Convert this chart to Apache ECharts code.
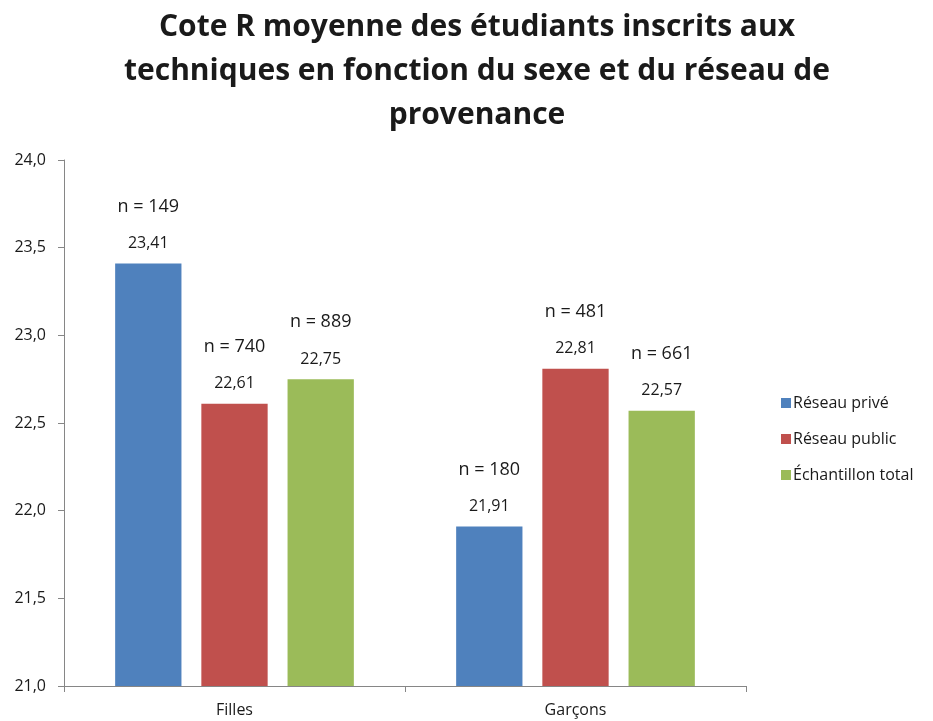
<!DOCTYPE html>
<html><head><meta charset="utf-8">
<script src="https://cdn.jsdelivr.net/npm/echarts@6/dist/echarts.min.js"></script>
<style>html,body{margin:0;padding:0;background:#fff}#c{width:933px;height:721px}</style>
</head><body><div id="c"></div>
<script>
const categories = ['Filles', 'Garçons'];
const seriesNames = ['Réseau privé', 'Réseau public', 'Échantillon total'];
const prive = [23.41, 21.91];
const public_ = [22.61, 22.81];
const total = [22.75, 22.57];
const nPrive = [149, 180];
const nPublic = [740, 481];
const nTotal = [889, 661];
const yTicks = [21.0, 21.5, 22.0, 22.5, 23.0, 23.5, 24.0];

const colors = ['#4F81BD', '#C0504D', '#9BBB59'];
const font = 'Open Sans';
const fmt = v => v.toFixed(2).replace('.', ',');

function mk(name, vals, ns, color) {
  return {
    name, type: 'bar', data: vals,
    itemStyle: { color },
    barGap: '30%', barCategoryGap: '30%',
    label: {
      show: true, position: 'top', distance: 6,
      formatter: p => '{n|n = ' + ns[p.dataIndex] + '}\n{v|' + fmt(p.value) + '}',
      rich: {
        n: { fontSize: 18, lineHeight: 46, color: '#1a1a1a', fontFamily: font },
        v: { fontSize: 16, lineHeight: 28, color: '#1a1a1a', fontFamily: font }
      }
    }
  };
}

const chart = echarts.init(document.getElementById('c'));
chart.setOption({
  animation: false,
  title: {
    text: 'Cote R moyenne des étudiants inscrits aux\ntechniques en fonction du sexe et du réseau de\nprovenance',
    left: 472, top: 0, textAlign: 'center',
    textStyle: { fontFamily: font, fontWeight: 'bold', fontSize: 30, lineHeight: 44, color: '#1a1a1a' }
  },
  legend: {
    orient: 'vertical', left: 776, top: 389, itemGap: 18,
    itemWidth: 10, itemHeight: 10, icon: 'rect',
    textStyle: { fontFamily: font, fontSize: 16, lineHeight: 18, color: '#1a1a1a', padding: [0, 0, 0, -3] },
    data: seriesNames
  },
  grid: { left: 64, right: 187, top: 160, bottom: 35 },
  xAxis: {
    type: 'category', data: categories,
    axisLine: { lineStyle: { color: '#868686' } },
    axisTick: { show: true, length: 6, lineStyle: { color: '#868686' } },
    axisLabel: { fontFamily: font, fontSize: 16, color: '#1a1a1a', margin: 16 }
  },
  yAxis: {
    type: 'value', min: yTicks[0], max: yTicks[yTicks.length - 1], interval: 0.5,
    splitLine: { show: false },
    axisLine: { show: true, lineStyle: { color: '#868686' } },
    axisTick: { show: true, length: 6, lineStyle: { color: '#868686' } },
    axisLabel: { fontFamily: font, fontSize: 16, color: '#1a1a1a', margin: 18,
      formatter: v => v.toFixed(1).replace('.', ',') }
  },
  series: [
    mk(seriesNames[0], prive, nPrive, colors[0]),
    mk(seriesNames[1], public_, nPublic, colors[1]),
    mk(seriesNames[2], total, nTotal, colors[2])
  ]
});
</script></body></html>
